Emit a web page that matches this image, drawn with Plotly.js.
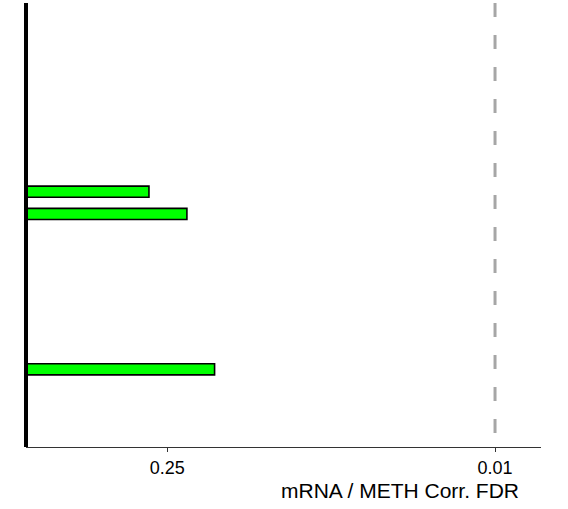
<!DOCTYPE html>
<html>
<head>
<meta charset="utf-8">
<script src="https://cdn.plot.ly/plotly-3.0.1.min.js"></script>
<style>html,body{margin:0;padding:0;background:#fff;}#chart{width:568px;height:509px;}</style>
</head>
<body>
<div id="chart"></div>
<script>
// Categories (rows, top to bottom); labels are not shown in the reference
const categories = ["r1","r2","r3","r4","r5","r6","r7","r8","r9","r10",
                    "r11","r12","r13","r14","r15","r16","r17","r18","r19","r20"];
// mRNA / METH correlation FDR per row (null = no bar)
const fdrValues = [null,null,null,null,null,null,null,null,0.299,0.206,
                   null,null,null,null,null,null,0.157,null,null,null];
// x-axis tick labels (FDR) and the significance threshold
const tickFDR = [0.25, 0.01];
const tickLabels = ["0.25", "0.01"];
const thresholdFDR = 0.01;

const negLog = v => (v === null ? null : -Math.log10(v));

const trace = {
  type: 'bar',
  orientation: 'h',
  y: categories,
  x: fdrValues.map(negLog),
  width: 0.5,
  marker: {color: '#00ff00', line: {color: '#000000', width: 1.6}},
  hoverinfo: 'none'
};

const layout = {
  width: 568, height: 509,
  margin: {l: 26, r: 27, t: 3, b: 62},
  paper_bgcolor: '#ffffff', plot_bgcolor: '#ffffff',
  showlegend: false,
  bargap: 0,
  font: {family: 'Liberation Sans, Arial, sans-serif', color: '#000000'},
  xaxis: {
    range: [0, 2.196],
    tickvals: tickFDR.map(negLog),
    ticktext: tickLabels,
    ticks: 'outside', ticklen: 4, tickwidth: 1, tickcolor: '#333333',
    ticklabelstandoff: 0,
    tickfont: {size: 18, color: '#000000'},
    showline: true, linecolor: '#333333', linewidth: 1,
    showgrid: false, zeroline: false, fixedrange: true
  },
  yaxis: {
    type: 'category',
    categoryorder: 'array', categoryarray: categories,
    autorange: 'reversed',
    showticklabels: false, ticks: '',
    showline: false, showgrid: false, zeroline: false, fixedrange: true
  },
  shapes: [
    {type: 'line', xref: 'x', yref: 'paper', x0: negLog(thresholdFDR), x1: negLog(thresholdFDR), y0: 1, y1: 0,
     line: {color: '#a6a6a6', width: 3, dash: '14px,18px'}},
    {type: 'line', xref: 'paper', yref: 'paper', x0: 0, x1: 0, y0: 1, y1: 0,
     line: {color: '#000000', width: 4}}
  ],
  annotations: [
    {text: 'mRNA / METH Corr. FDR', xref: 'paper', yref: 'paper', x: 0.961, y: -0.099,
     xanchor: 'right', yanchor: 'middle', showarrow: false,
     font: {size: 21, color: '#000000'}}
  ]
};

Plotly.newPlot('chart', [trace], layout, {displayModeBar: false, staticPlot: true});
</script>
</body>
</html>
